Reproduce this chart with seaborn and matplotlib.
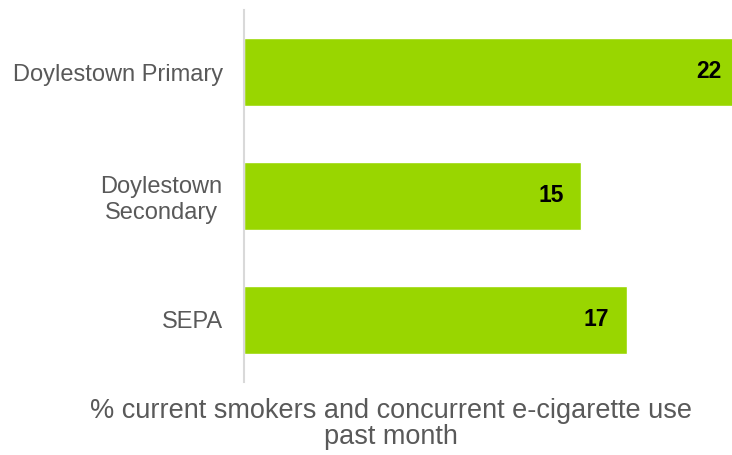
import matplotlib
matplotlib.use("Agg")
import matplotlib.pyplot as plt
import seaborn as sns
import pandas as pd

# Data
categories = ["Doylestown Primary", "Doylestown\nSecondary", "SEPA"]
values = [22, 15, 17]
value_labels = ["22", "15", "17"]
axis_title_lines = ["% current smokers and concurrent e-cigarette use", "past month"]

bar_color = "#99D600"
label_gray = "#595959"

sns.set_style("white")
plt.rcParams["font.family"] = ["Liberation Sans", "DejaVu Sans"]

df = pd.DataFrame({"group": categories, "pct": values})

W, H = 732, 455
fig = plt.figure(figsize=(W / 100, H / 100), dpi=100)
ax = fig.add_axes([243.5 / W, 1 - 382 / H, (W - 243.5) / W, 372 / H])

sns.barplot(data=df, y="group", x="pct", orient="h", color=bar_color,
            saturation=1, width=0.55, ax=ax)

ax.set_xlim(0, 21.68)
ax.set_ylim(2.5, -0.5)

# Value labels inside the bar ends
for i, (v, t) in enumerate(zip(values, value_labels)):
    ax.annotate(t, xy=(v, i), xytext=(-30, 0), textcoords="offset pixels",
                ha="center", va="center", fontsize=16.5, fontweight="bold",
                color="black", annotation_clip=False)

# Axes styling
for side in ["top", "right", "bottom"]:
    ax.spines[side].set_visible(False)
ax.spines["left"].set_color("#D9D9D9")
ax.spines["left"].set_linewidth(1.5)
ax.set_xticks([])
ax.set_xlabel("")
ax.set_ylabel("")
ax.tick_params(axis="y", length=0, pad=15, labelsize=17, labelcolor=label_gray)
for lbl in ax.get_yticklabels():
    lbl.set_multialignment("center")

# Two-line axis title below the bars
for line, base_y in zip(axis_title_lines, [418, 444]):
    fig.text(391 / W, 1 - base_y / H, line, ha="center", va="baseline",
             fontsize=19.5, color=label_gray)

fig.savefig("out.png", dpi=100)
